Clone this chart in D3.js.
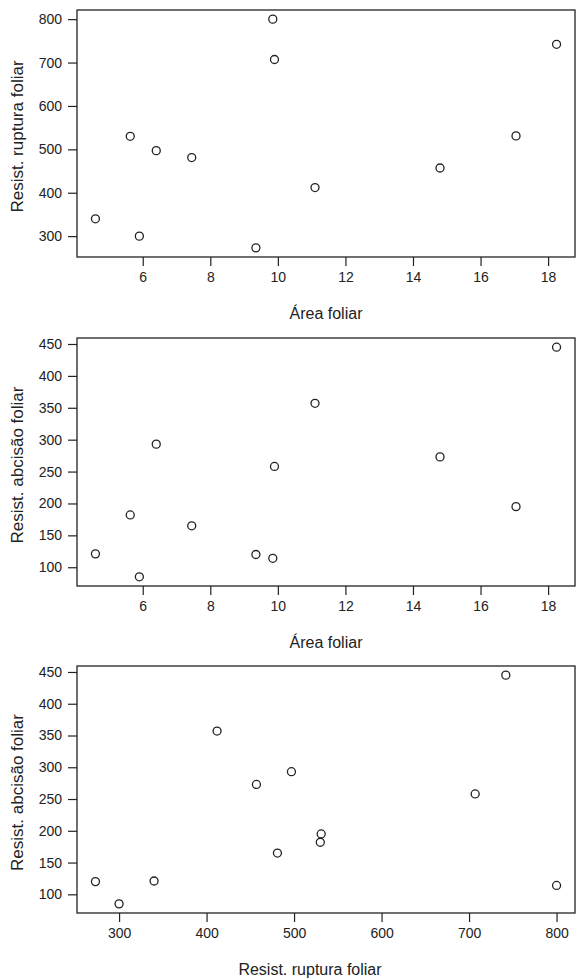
<!DOCTYPE html>
<html><head><meta charset="utf-8">
<script src="https://cdn.jsdelivr.net/npm/d3@7"></script>
<style>body{margin:0;background:#fff}svg{display:block}text{font-family:"Liberation Sans",Arial,sans-serif;fill:#222}</style>
</head><body><svg id="c" width="578" height="979"></svg>
<script>
const areaFoliar = [4.6, 5.63, 5.9, 6.4, 7.45, 9.35, 9.85, 9.9, 11.1, 14.8, 17.05, 18.25];
const ruptura    = [340, 530, 300, 497, 481, 273, 800, 707, 412, 457, 531, 742];
const abcisao    = [121, 182, 85, 293, 165, 120, 114, 258, 357, 273, 195, 445];
const ticksArea = [6, 8, 10, 12, 14, 16, 18];
const ticksRup = [300, 400, 500, 600, 700, 800];
const ticksAbc = [100, 150, 200, 250, 300, 350, 400, 450];
const panels = [
  {x: areaFoliar, y: ruptura, xt: ticksArea, yt: ticksRup, xl: "Área foliar", yl: "Resist. ruptura foliar", top: 10, bottom: 257, xlc: 326},
  {x: areaFoliar, y: abcisao, xt: ticksArea, yt: ticksAbc, xl: "Área foliar", yl: "Resist. abcisão foliar", top: 338, bottom: 586, xlc: 326},
  {x: ruptura, y: abcisao, xt: [300,400,500,600,700,800], yt: ticksAbc, xl: "Resist. ruptura foliar", yl: "Resist. abcisão foliar", top: 666, bottom: 913, xlc: 310}
];
const svg = d3.select("#c");
const L = 77, R = 575;
function padded(arr){const [a,b]=d3.extent(arr);const p=(b-a)*0.04;return [a-p,b+p];}
panels.forEach(p => {
  const x = d3.scaleLinear().domain(padded(p.x)).range([L, R]);
  const y = d3.scaleLinear().domain(padded(p.y)).range([p.bottom, p.top]);
  const g = svg.append("g");
  g.append("rect").attr("x", L).attr("y", p.top).attr("width", R-L).attr("height", p.bottom-p.top)
    .attr("fill","none").attr("stroke","#222").attr("stroke-width",1.3);
  const xa = g.append("g").attr("transform",`translate(0,${p.bottom})`)
    .call(d3.axisBottom(x).tickValues(p.xt).tickSize(9).tickPadding(6).tickFormat(d3.format("d")));
  const ya = g.append("g").attr("transform",`translate(${L},0)`)
    .call(d3.axisLeft(y).tickValues(p.yt).tickSize(9).tickPadding(6).tickFormat(d3.format("d")));
  [xa, ya].forEach(a => {
    a.select(".domain").remove();
    a.selectAll(".tick line").attr("stroke","#222").attr("stroke-width",1.2);
    a.selectAll(".tick text").attr("font-size",14).attr("fill","#222").style("font-family","Liberation Sans, Arial, sans-serif");
  });
  g.append("text").attr("x",p.xlc).attr("y",p.bottom+62).attr("text-anchor","middle")
    .attr("font-size",16).text(p.xl);
  g.append("text").attr("transform",`translate(23,${(p.top+p.bottom)/2+3}) rotate(-90)`)
    .attr("text-anchor","middle").attr("font-size",17).text(p.yl);
  g.selectAll("circle").data(p.x.map((v,i)=>[v,p.y[i]])).join("circle")
    .attr("cx",d=>x(d[0])).attr("cy",d=>y(d[1])).attr("r",4)
    .attr("fill","none").attr("stroke","#222").attr("stroke-width",1.3);
});
</script></body></html>
